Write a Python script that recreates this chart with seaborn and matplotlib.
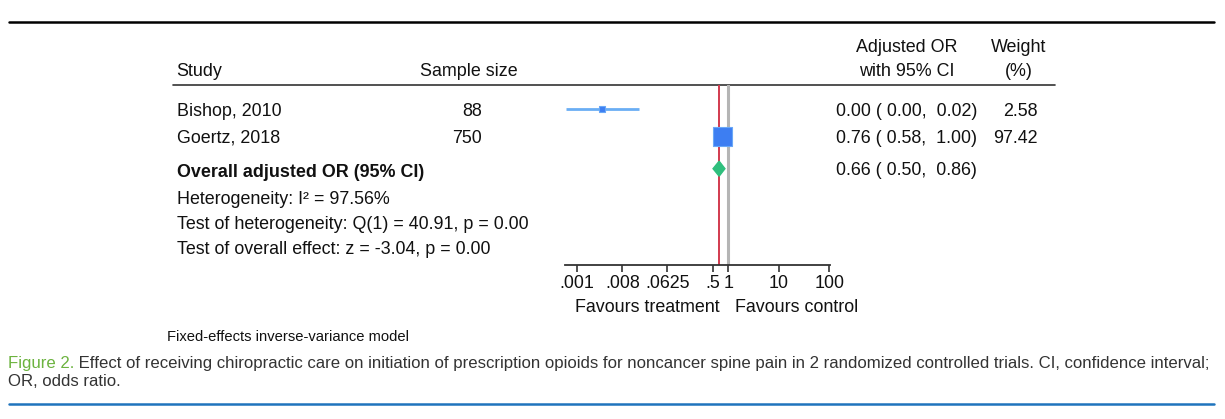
import numpy as np
import pandas as pd
import matplotlib
matplotlib.use("Agg")
import matplotlib.pyplot as plt
import seaborn as sns

# study level data
studies = ["Bishop, 2010", "Goertz, 2018"]
sample_sizes = [88, 750]
or_est = [0.0031, 0.76]
ci_lo = [0.0006, 0.58]
ci_hi = [0.017, 1.00]
weights = [2.58, 97.42]

# pooled result
overall_or = 0.66
overall_lo = 0.50
overall_hi = 0.86

stats_lines = ["Heterogeneity: I\u00b2 = 97.56%",
               "Test of heterogeneity: Q(1) = 40.91, p = 0.00",
               "Test of overall effect: z = -3.04, p = 0.00"]

tick_vals = [0.001, 0.008, 0.0625, 0.5, 1, 10, 100]
tick_labels = [".001", ".008", ".0625", ".5", "1", "10", "100"]

caption_head = "Figure 2."
caption_1 = (" Effect of receiving chiropractic care on initiation of prescription opioids "
             "for noncancer spine pain in 2 randomized controlled trials. CI, confidence interval;")
caption_2 = "OR, odds ratio."

df = pd.DataFrame({"study": studies, "n": sample_sizes, "est": or_est,
                   "lo": ci_lo, "hi": ci_hi, "weight": weights})
df["row"] = np.arange(1, len(df) + 1)
overall_row = 3.155

sns.set_theme(style="white")
plt.rcParams["font.family"] = ["Liberation Sans", "DejaVu Sans"]

W, H = 1225, 419
fig = plt.figure(figsize=(W / 100, H / 100), dpi=100)
fs = 12.9
txt = "#111111"

# overlay in pixel coordinates for the table text and rules
bg = fig.add_axes([0, 0, 1, 1])
bg.set_xlim(0, W)
bg.set_ylim(H, 0)
bg.axis("off")

# forest plot axes (pixels 565..830 horizontally, 85..265 vertically)
ax = fig.add_axes([565 / W, 1 - 265 / H, (830 - 565) / W, (265 - 85) / H])
ax.set_xscale("log")
ax.set_xlim(10 ** -3.232, 10 ** 2.014)
ax.set_ylim(6.632, 0.134)
ax.patch.set_alpha(0)

ax.axvline(1, color="#b5b5b5", lw=2.2, zorder=1)
ax.axvline(overall_or, color="#d23a4e", lw=1.4, zorder=2)

ax.hlines(df["row"], df["lo"], df["hi"], color="#6aaef4", lw=2, zorder=3)
sns.scatterplot(data=df, x="est", y="row", marker="s", size="weight",
                sizes=(14, 190), size_norm=(0, 100), color="#3d7ef2",
                edgecolor="#6aa8f7", linewidth=0.8, legend=False, zorder=4, ax=ax)

dx = [overall_lo, overall_or, overall_hi, overall_or]
dy = [overall_row, overall_row - 0.27, overall_row, overall_row + 0.27]
ax.fill(dx, dy, color="#2fbf7d", zorder=5)

for s in ["top", "right", "left"]:
    ax.spines[s].set_visible(False)
ax.spines["bottom"].set_color("#333333")
ax.spines["bottom"].set_linewidth(1.3)
ax.set_xticks(tick_vals)
ax.set_xticklabels(tick_labels)
ax.xaxis.set_minor_locator(matplotlib.ticker.NullLocator())
ax.tick_params(axis="x", bottom=True, direction="out", length=5, width=1.2,
               color="#333333", pad=2, labelsize=fs, labelcolor=txt)
ax.set_yticks([])
ax.set_xlabel("")
ax.set_ylabel("")

# rules
bg.plot([9, 1214], [22.3, 22.3], color="black", lw=1.8)
bg.plot([173, 1055], [85, 85], color="#333333", lw=1.2)
bg.plot([9, 1214], [403.5, 403.5], color="#1f74bd", lw=1.8)

# header
bg.text(176, 72, "Study", fontsize=fs, color=txt, va="center")
bg.text(518, 72, "Sample size", fontsize=fs, color=txt, va="center", ha="right")
bg.text(907, 47, "Adjusted OR", fontsize=fs, color=txt, va="center", ha="center")
bg.text(907, 72, "with 95% CI", fontsize=fs, color=txt, va="center", ha="center")
bg.text(1019, 47, "Weight", fontsize=fs, color=txt, va="center", ha="center")
bg.text(1019, 72, "(%)", fontsize=fs, color=txt, va="center", ha="center")

# study rows
row_px = [111.5, 138]
for yy, r in zip(row_px, df.itertuples()):
    bg.text(177, yy, r.study, fontsize=fs, color=txt, va="center")
    bg.text(482, yy, f"{r.n}", fontsize=fs, color=txt, va="center", ha="right")
    bg.text(836, yy, f"{r.est:.2f} ({r.lo:5.2f}, {r.hi:5.2f})", fontsize=fs,
            color=txt, va="center")
    bg.text(1038, yy, f"{r.weight:.2f}", fontsize=fs, color=txt, va="center", ha="right")

bg.text(177, 172, "Overall adjusted OR (95% CI)", fontsize=fs, color=txt,
        va="center", fontweight="bold")
bg.text(836, 170.5, f"{overall_or:.2f} ({overall_lo:5.2f}, {overall_hi:5.2f})",
        fontsize=fs, color=txt, va="center")
for yy, line in zip([199, 224.5, 249.5], stats_lines):
    bg.text(177, yy, line, fontsize=fs, color=txt, va="center")

bg.text(647, 307, "Favours treatment", fontsize=fs, color=txt, va="center", ha="center")
bg.text(797, 307, "Favours control", fontsize=fs, color=txt, va="center", ha="center")

bg.text(167, 336.5, "Fixed-effects inverse-variance model", fontsize=10.6,
        color=txt, va="center")

# caption, first part green
cfs = 12.1
t1 = bg.text(8, 363, caption_head, fontsize=cfs, color="#6cb33f", va="center")
bg.annotate(caption_1, xy=(1, 0), xycoords=t1, va="bottom", ha="left",
            fontsize=cfs, color="#333333")
bg.text(8, 381.5, caption_2, fontsize=cfs, color="#333333", va="center")

fig.savefig("out.png", dpi=100)
